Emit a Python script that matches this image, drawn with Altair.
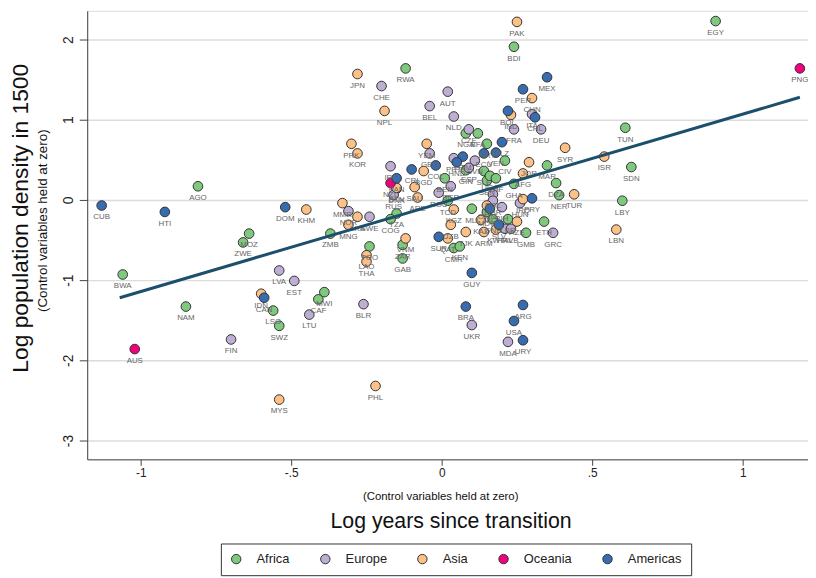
import altair as alt
import pandas as pd

FONT = "Liberation Sans"

regions = ["Africa", "Europe", "Asia", "Oceania", "Americas"]
colors = ["#7fc97f", "#beaed4", "#fdc086", "#f0027f", "#386cb0"]

af_codes = ["EGY", "BDI", "RWA", "TUN", "SDN", "LBY", "MAR", "DZA", "NER", "ETH", "GMB", "GHA",
            "CIV", "AGO", "BWA", "NAM", "MOZ", "ZWE", "ZMB", "TGO", "MWI", "CAF", "LSO", "SWZ",
            "TZA", "COG", "ZAR", "GAB", "TCD", "MLI", "CMR", "KEN", "BFA", "NGA", "MRT", "SEN",
            "BEN", "GIN", "SLE", "UGA", "ZAF", "MDG", "GNB", "LBR"]
af_x = [0.91, 0.24, -0.12, 0.61, 0.63, 0.60, 0.35, 0.38, 0.39, 0.34, 0.28, 0.24,
        0.21, -0.81, -1.06, -0.85, -0.64, -0.66, -0.37, -0.24, -0.39, -0.41, -0.56, -0.54,
        -0.15, -0.17, -0.13, -0.13, 0.02, 0.10, 0.04, 0.06, 0.12, 0.08, 0.15, 0.15,
        0.01, 0.08, 0.14, 0.16, 0.18, 0.15, 0.17, 0.22]
af_y = [2.23, 1.91, 1.64, 0.90, 0.41, -0.01, 0.43, 0.21, 0.06, -0.27, -0.41, 0.20,
        0.49, 0.17, -0.93, -1.33, -0.42, -0.53, -0.42, -0.58, -1.15, -1.24, -1.38, -1.57,
        -0.17, -0.24, -0.56, -0.73, -0.01, -0.11, -0.60, -0.58, 0.83, 0.83, 0.70, 0.24,
        0.27, 0.37, 0.36, 0.30, 0.27, -0.15, -0.24, -0.24]

eu_codes = ["CHE", "AUT", "BEL", "NLD", "ITA", "DEU", "FRA", "CZE", "GEO", "PRT", "SVN", "ESP",
            "IRL", "DNK", "RUS", "ROU", "BGR", "POL", "HUN", "GBR", "BIH", "HRV", "ALB", "GRC",
            "NOR", "SWE", "FIN", "LVA", "EST", "LTU", "BLR", "UKR", "MDA"]
eu_x = [-0.20, 0.02, -0.04, 0.04, 0.30, 0.33, 0.24, 0.09, -0.04, 0.04, 0.11, 0.09,
        -0.17, -0.15, -0.16, -0.01, 0.03, 0.17, 0.26, 0.17, 0.20, 0.21, 0.23, 0.37,
        -0.31, -0.24, -0.70, -0.54, -0.49, -0.44, -0.26, 0.10, 0.22]
eu_y = [1.42, 1.35, 1.17, 1.04, 1.07, 0.88, 0.88, 0.88, 0.58, 0.52, 0.49, 0.40,
        0.42, 0.14, 0.06, 0.09, 0.17, 0.07, -0.04, -0.01, -0.09, -0.36, -0.36, -0.41,
        -0.14, -0.21, -1.74, -0.88, -1.01, -1.43, -1.30, -1.56, -1.77]

as_codes = ["PAK", "JPN", "CHN", "NPL", "IND", "YEM", "PRK", "KOR", "SYR", "ISR", "LBN", "TUR",
            "JOR", "AFG", "IRQ", "AZE", "BGD", "SAU", "ARE", "KGZ", "UZB", "QAT", "TJK", "KAZ",
            "ARM", "KWT", "OMN", "VNM", "LAO", "THA", "MMR", "LKA", "MNG", "KHM", "IDN", "MYS",
            "PHL", "BTN"]
as_x = [0.25, -0.28, 0.30, -0.19, 0.23, -0.05, -0.30, -0.28, 0.41, 0.54, 0.58, 0.44,
        0.29, 0.27, 0.27, 0.25, -0.06, -0.09, -0.08, 0.04, 0.03, 0.02, 0.08, 0.13,
        0.14, 0.18, 0.15, -0.12, -0.25, -0.25, -0.33, -0.28, -0.31, -0.45, -0.60, -0.54,
        -0.22, -0.15]
as_y = [2.22, 1.57, 1.27, 1.11, 1.06, 0.70, 0.70, 0.58, 0.65, 0.54, -0.37, 0.07,
        0.47, 0.33, 0.01, -0.27, 0.36, 0.16, 0.03, -0.12, -0.31, -0.48, -0.40, -0.25,
        -0.40, -0.37, -0.07, -0.48, -0.69, -0.77, -0.04, -0.21, -0.31, -0.12, -1.17, -2.49,
        -2.32, 0.15]

oc_codes = ["PNG", "AUS", "NZL"]
oc_x = [1.19, -1.02, -0.17]
oc_y = [1.64, -1.86, 0.21]

am_codes = ["MEX", "PER", "BOL", "CHL", "BLZ", "ECU", "VEN", "GTM", "HND", "COL", "CRI", "PAN",
            "PRY", "NIC", "SLV", "SUR", "CUB", "HTI", "DOM", "CAN", "GUY", "BRA", "ARG", "USA",
            "URY"]
am_x = [0.35, 0.27, 0.22, 0.31, 0.20, 0.14, 0.18, 0.07, 0.05, -0.02, -0.10, -0.15,
        0.30, 0.16, 0.19, -0.01, -1.13, -0.92, -0.52, -0.59, 0.10, 0.08, 0.27, 0.24,
        0.27]
am_y = [1.53, 1.38, 1.11, 1.03, 0.72, 0.58, 0.59, 0.54, 0.47, 0.43, 0.38, 0.27,
        0.02, -0.11, -0.31, -0.46, -0.07, -0.15, -0.09, -1.22, -0.91, -1.33, -1.31, -1.51,
        -1.75]

fit_x = [-1.07, 1.19]
fit_y = [-1.22, 1.28]

y_ticks = [-3, -2, -1, 0, 1, 2]
x_ticks = [-1, -0.5, 0, 0.5, 1]

rows = []
for reg, codes, xs, ys in [("Africa", af_codes, af_x, af_y), ("Europe", eu_codes, eu_x, eu_y),
                           ("Asia", as_codes, as_x, as_y), ("Oceania", oc_codes, oc_x, oc_y),
                           ("Americas", am_codes, am_x, am_y)]:
    for c, xv, yv in zip(codes, xs, ys):
        rows.append({"code": c, "region": reg, "x": xv, "y": yv})
df = pd.DataFrame(rows)
fit_df = pd.DataFrame({"x": fit_x, "y": fit_y})

W, H = 728, 453

xscale = alt.Scale(domain=[-1.178, 1.217], nice=False, zero=False)
yscale = alt.Scale(domain=[-3.235, 2.358], nice=False, zero=False)

x_enc = alt.X("x:Q", scale=xscale, axis=alt.Axis(
    values=x_ticks, labelExpr="replace(toString(datum.value), '0.', '.')",
    grid=False, tickSize=6, tickColor="#444", domainColor="#444", labelPadding=2,
    labelFontSize=12, labelFont=FONT, labelColor="#222",
    title="Log years since transition", titleFont=FONT, titleFontSize=21.5,
    titleFontWeight="normal", titleColor="#111", titleX=367, titleY=63,
    titleBaseline="middle", titleAlign="center"))
y_enc = alt.Y("y:Q", scale=yscale, axis=alt.Axis(
    values=y_ticks, labelExpr="toString(datum.value)",
    grid=True, gridColor="#dcdcdc", gridWidth=1.5, tickSize=8, tickColor="#444",
    domainColor="#444", labelAngle=270, labelAlign="center", labelBaseline="bottom",
    labelPadding=4, labelFontSize=14, labelFont=FONT, labelColor="#222",
    title="Log population density in 1500", titleFont=FONT, titleFontSize=23,
    titleFontWeight="normal", titleColor="#111", titleX=-67, titleY=209,
    titleAngle=270, titleBaseline="middle", titleAlign="center"))

points = alt.Chart(df).mark_circle(size=95, opacity=1, stroke="#333333", strokeWidth=1).encode(
    x=x_enc, y=y_enc,
    color=alt.Color("region:N", scale=alt.Scale(domain=regions, range=colors),
                    legend=alt.Legend(orient="none", legendX=135, legendY=538,
                                      direction="horizontal", columns=5, title=None,
                                      strokeColor="#333", padding=9, cornerRadius=0,
                                      symbolType="circle", symbolSize=90,
                                      symbolStrokeColor="#333", symbolStrokeWidth=1,
                                      symbolOpacity=1, labelFontSize=13, labelFont=FONT,
                                      labelColor="#222", columnPadding=28, labelOffset=14)),
)

labels = alt.Chart(df).mark_text(fontSize=8, font=FONT, color="#666666", dy=12).encode(
    x=alt.X("x:Q", scale=xscale), y=alt.Y("y:Q", scale=yscale), text="code:N")

fit = alt.Chart(fit_df).mark_line(color="#1c4f6c", strokeWidth=3).encode(
    x=alt.X("x:Q", scale=xscale), y=alt.Y("y:Q", scale=yscale))

sub_df = pd.DataFrame({"t": ["(Control variables held at zero)"]})
xsub = alt.Chart(sub_df).mark_text(fontSize=11.5, font=FONT, color="#111").encode(
    x=alt.value(357), y=alt.value(491), text="t:N")
ysub = alt.Chart(sub_df).mark_text(fontSize=13.5, font=FONT, color="#111", angle=270).encode(
    x=alt.value(-45), y=alt.value(212), text="t:N")

chart = alt.layer(points, labels, fit, xsub, ysub).properties(
    width=W, height=H,
    autosize=alt.AutoSizeParams(type="none"),
    padding={"left": 80, "top": 0, "right": 0, "bottom": 117},
).configure_view(stroke=None).configure(background="white")

chart.save("out.html", embed_options={"renderer": "svg", "actions": False})
